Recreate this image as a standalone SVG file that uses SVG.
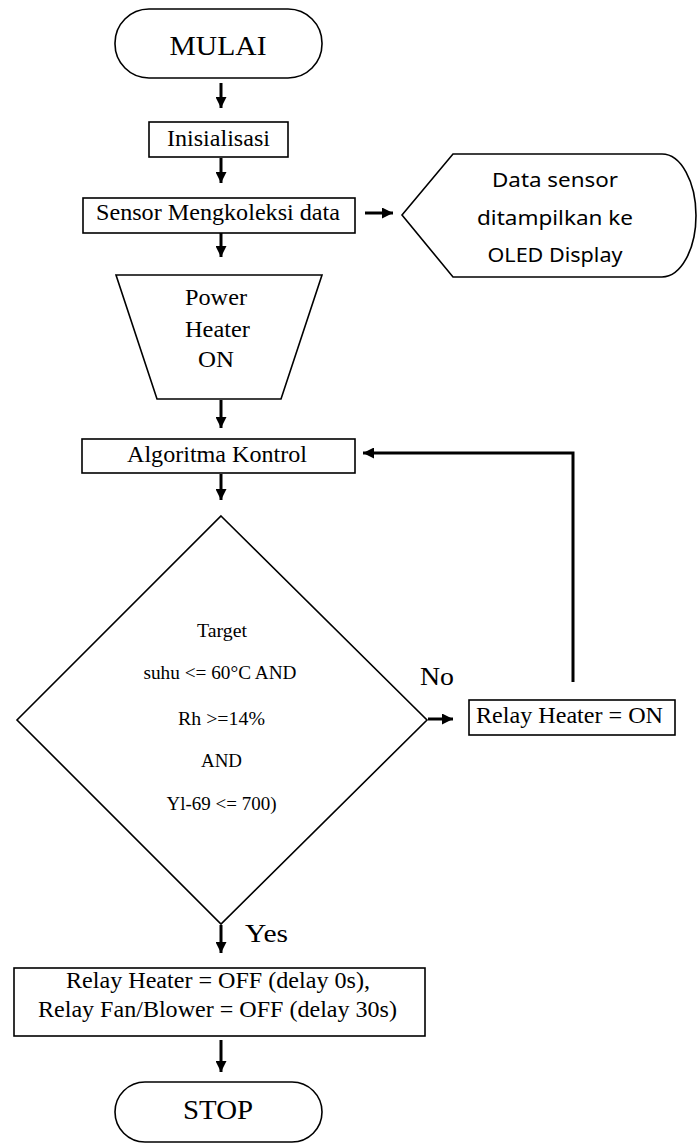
<svg xmlns="http://www.w3.org/2000/svg" width="697" height="1146" viewBox="0 0 697 1146">
<style>
.shape{fill:#fff;stroke:#000;stroke-width:1.6}
.t{font-family:"Liberation Serif","Times New Roman",serif;fill:#000;text-anchor:middle}
.s{font-family:"Noto Sans","Open Sans",sans-serif;fill:#000;text-anchor:middle}
.c{fill:none;stroke:#000;stroke-width:3}
</style>
<defs>
<marker id="ah" viewBox="0 0 10 10" refX="10" refY="5" markerWidth="11" markerHeight="11" markerUnits="userSpaceOnUse" orient="auto">
<path d="M0,0 L10,5 L0,10 z" fill="#000"/>
</marker>
</defs>
<rect width="697" height="1146" fill="#fff"/>
<g id="mulai">
<rect class="shape" x="115" y="9" width="207" height="69" rx="34" ry="34"/>
<text class="t" x="218" y="55" font-size="27" textLength="97" lengthAdjust="spacingAndGlyphs">MULAI</text>
</g>
<g id="inisialisasi">
<rect class="shape" x="149" y="122" width="139" height="35"/>
<text class="t" x="218.5" y="146" font-size="23" textLength="103" lengthAdjust="spacingAndGlyphs">Inisialisasi</text>
</g>
<g id="sensor">
<rect class="shape" x="83" y="198" width="272" height="35"/>
<text class="t" x="218" y="220" font-size="23" textLength="244" lengthAdjust="spacingAndGlyphs">Sensor Mengkoleksi data</text>
</g>
<g id="display">
<path class="shape" d="M402,215 L453,154 L662,154 A34,61.5 0 0 1 662,277 L453,277 Z"/>
<text class="s" x="555" y="187" font-size="20" textLength="126" lengthAdjust="spacingAndGlyphs">Data sensor</text>
<text class="s" x="555" y="225" font-size="20" textLength="156" lengthAdjust="spacingAndGlyphs">ditampilkan ke</text>
<text class="s" x="555" y="262" font-size="20" textLength="135" lengthAdjust="spacingAndGlyphs">OLED Display</text>
</g>
<g id="power">
<path class="shape" d="M116,275 L322,275 L281,399 L157,399 Z"/>
<text class="t" x="216" y="305" font-size="23" textLength="62" lengthAdjust="spacingAndGlyphs">Power</text>
<text class="t" x="217.5" y="337" font-size="23" textLength="65" lengthAdjust="spacingAndGlyphs">Heater</text>
<text class="t" x="216" y="367" font-size="23" textLength="36" lengthAdjust="spacingAndGlyphs">ON</text>
</g>
<g id="algoritma">
<rect class="shape" x="82" y="439" width="273" height="34"/>
<text class="t" x="217" y="462" font-size="23" textLength="180" lengthAdjust="spacingAndGlyphs">Algoritma Kontrol</text>
</g>
<g id="decision">
<path class="shape" d="M221,516 L427,720 L221,924 L17,720 Z"/>
<text class="t" x="222" y="637" font-size="19" textLength="50" lengthAdjust="spacingAndGlyphs">Target</text>
<text class="t" x="220" y="679" font-size="19" textLength="153" lengthAdjust="spacingAndGlyphs">suhu &lt;= 60°C AND</text>
<text class="t" x="221.5" y="725" font-size="19" textLength="87" lengthAdjust="spacingAndGlyphs">Rh &gt;=14%</text>
<text class="t" x="221.5" y="767" font-size="19" textLength="41" lengthAdjust="spacingAndGlyphs">AND</text>
<text class="t" x="221.5" y="810" font-size="19" textLength="110" lengthAdjust="spacingAndGlyphs">Yl-69 &lt;= 700)</text>
</g>
<g id="relay-on">
<rect class="shape" x="469" y="700" width="206" height="35"/>
<text class="t" x="569.5" y="723" font-size="23" textLength="187" lengthAdjust="spacingAndGlyphs">Relay Heater = ON</text>
</g>
<g id="relay-off">
<rect class="shape" x="14" y="968" width="411" height="68"/>
<text class="t" x="218" y="988" font-size="23" textLength="304" lengthAdjust="spacingAndGlyphs">Relay Heater = OFF (delay 0s),</text>
<text class="t" x="217.5" y="1017" font-size="23" textLength="359" lengthAdjust="spacingAndGlyphs">Relay Fan/Blower = OFF (delay 30s)</text>
</g>
<g id="stop">
<rect class="shape" x="115" y="1082" width="207" height="60" rx="30" ry="30"/>
<text class="t" x="218" y="1119" font-size="27" textLength="70" lengthAdjust="spacingAndGlyphs">STOP</text>
</g>
<g id="connectors">
<line class="c" x1="221" y1="83" x2="221" y2="108" marker-end="url(#ah)"/>
<line class="c" x1="221" y1="158" x2="221" y2="183" marker-end="url(#ah)"/>
<line class="c" x1="221" y1="233" x2="221" y2="257" marker-end="url(#ah)"/>
<line class="c" x1="365" y1="213" x2="393" y2="213" marker-end="url(#ah)"/>
<line class="c" x1="221" y1="400" x2="221" y2="428" marker-end="url(#ah)"/>
<line class="c" x1="221" y1="474" x2="221" y2="500" marker-end="url(#ah)"/>
<line class="c" x1="428" y1="719" x2="453" y2="719" marker-end="url(#ah)"/>
<path class="c" d="M573,682 L573,453 L363,453" marker-end="url(#ah)"/>
<line class="c" x1="221" y1="925" x2="221" y2="953" marker-end="url(#ah)"/>
<line class="c" x1="221" y1="1040" x2="221" y2="1072" marker-end="url(#ah)"/>
<text class="t" x="437" y="685" font-size="25" textLength="34" lengthAdjust="spacingAndGlyphs">No</text>
<text class="t" x="266.5" y="942" font-size="25" textLength="43" lengthAdjust="spacingAndGlyphs">Yes</text>
</g>
</svg>
